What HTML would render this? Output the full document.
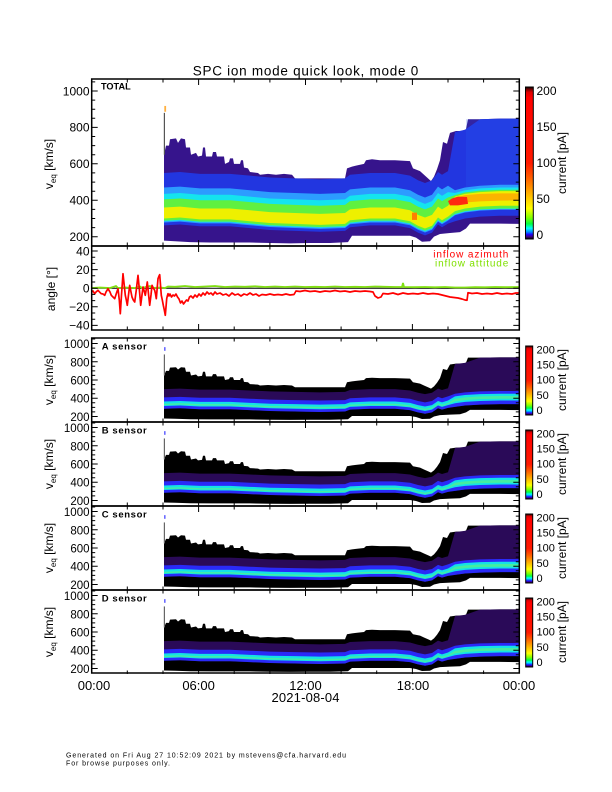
<!DOCTYPE html>
<html><head><meta charset="utf-8"><style>
html,body{margin:0;padding:0;background:#fff;}
svg{display:block;}
text{font-family:"Liberation Sans",sans-serif;fill:#000;}
</style></head><body>
<svg width="612" height="792" viewBox="0 0 612 792" xmlns="http://www.w3.org/2000/svg">
<defs>
<linearGradient id="cb" x1="0" y1="0" x2="0" y2="1">
<stop offset="0" stop-color="#000"/>
<stop offset="0.015" stop-color="#700000"/>
<stop offset="0.035" stop-color="#e00000"/>
<stop offset="0.07" stop-color="#ff0000"/>
<stop offset="0.5" stop-color="#ff1a00"/>
<stop offset="0.6" stop-color="#ff6000"/>
<stop offset="0.68" stop-color="#ffa000"/>
<stop offset="0.76" stop-color="#ffe000"/>
<stop offset="0.8" stop-color="#ffff00"/>
<stop offset="0.86" stop-color="#80ff00"/>
<stop offset="0.9" stop-color="#00ff40"/>
<stop offset="0.93" stop-color="#00ffff"/>
<stop offset="0.955" stop-color="#0080ff"/>
<stop offset="0.97" stop-color="#2000ff"/>
<stop offset="0.985" stop-color="#400080"/>
<stop offset="1" stop-color="#000"/>
</linearGradient>
<path id="env" d="M164,350L166,300L169,300L170,265L176,260L178,285L181,260L185,265L186,310L190,310L191,350L196,340L198,360L202,355L203,310L205,310L206,360L212,360L213,335L216,335L217,360L224,360L225,400L229,390L230,370L233,370L234,400L240,400L241,380L243,380L244,420L248,425L250,445L258,450L260,460L268,455L276,460L284,455L292,460L295,480L345,480L347,425L352,415L356,410L364,400L366,380L372,375L380,380L395,380L410,385L413,425L420,440L424,460L428,480L431,495L434,470L437,430L440,380L443,280L447,290L450,230L456,220L462,220L466,210L468,155L480,155L500,152L519.5,152L519.5,730L500,728L470,728L466,755L460,775L450,780L440,785L434,800L430,825L422,828L416,805L410,795L380,795L352,795L348,830L330,835L310,835L290,837L270,835L250,832L230,832L210,832L190,830L175,825L164,822Z"/>
<g id="sspec">
<use href="#env" fill="#000"/>
<polygon fill="#2a0a58" points="164,500 180,495 200,505 230,505 250,515 270,525 295,530 320,535 345,530 350,510 370,500 395,500 410,515 418,540 425,555 432,540 438,495 442,510 448,490 455,225 465,213 480,155 500,152 519.5,152 519.5,665 500,665 480,670 465,680 455,695 448,705 442,725 438,710 432,755 425,770 418,755 410,730 395,715 370,715 350,725 345,745 320,750 295,745 270,740 250,730 230,720 200,720 180,710 164,715"/>
<polygon fill="#2a2af8" points="164,590 180,585 200,595 230,595 250,605 270,615 295,620 320,625 345,620 350,600 370,590 395,590 410,605 418,630 425,645 432,630 438,585 442,600 448,580 455,550 465,535 480,525 500,520 519.5,520 519.5,665 500,665 480,670 465,680 455,695 448,705 442,725 438,710 432,755 425,770 418,755 410,730 395,715 370,715 350,725 345,745 320,750 295,745 270,740 250,730 230,720 200,720 180,710 164,715"/>
<polygon fill="#14e2e6" points="164,635 180,630 200,640 230,640 250,650 270,660 295,665 320,670 345,665 350,645 370,635 395,635 410,650 418,675 425,690 432,675 438,630 442,645 448,625 455,580 465,565 480,555 500,550 519.5,550 519.5,625 500,625 480,630 465,640 455,655 448,675 442,695 438,680 432,725 425,740 418,725 410,700 395,685 370,685 350,695 345,715 320,720 295,715 270,710 250,700 230,690 200,690 180,680 164,685"/>
<polygon fill="#50f090" opacity="0.8" points="164,660 180,655 200,665 230,665 250,675 270,685 295,690 320,695 345,690 350,670 370,660 395,660 410,675 418,700 425,715 432,700 438,655 442,670 448,650 455,605 465,590 480,580 500,575 519.5,575 519.5,605 500,605 480,610 465,620 455,635 448,665 442,685 438,670 432,715 425,730 418,715 410,690 395,675 370,675 350,685 345,705 320,710 295,705 270,700 250,690 230,680 200,680 180,670 164,675"/>
<rect x="163.8" y="120" width="1.2" height="230" fill="#666"/>
<rect x="164" y="40" width="1.6" height="40" fill="#6a6aff"/>
</g>
<path id="stk" fill="none" stroke="#000" stroke-width="1" d="M127.3,84V80.5M163,84V80.5M234.2,84V80.5M269.9,84V80.5M341.1,84V80.5M376.7,84V80.5M448,84V80.5M483.6,84V80.5M198.6,84V78M305.5,84V78M412.4,84V78M127.3,0V3.5M163,0V3.5M234.2,0V3.5M269.9,0V3.5M341.1,0V3.5M376.7,0V3.5M448,0V3.5M483.6,0V3.5M198.6,0V6M305.5,0V6M412.4,0V6M91.7,5.5H97.7M91.7,23.75H97.7M91.7,42H97.7M91.7,60.25H97.7M91.7,78.5H97.7M91.7,1H95.2M91.7,10.1H95.2M91.7,14.6H95.2M91.7,19.2H95.2M91.7,28.3H95.2M91.7,32.9H95.2M91.7,37.4H95.2M91.7,46.6H95.2M91.7,51.1H95.2M91.7,55.7H95.2M91.7,64.8H95.2M91.7,69.4H95.2M91.7,73.9H95.2M519.3,5.5H513.3M519.3,23.75H513.3M519.3,42H513.3M519.3,60.25H513.3M519.3,78.5H513.3M519.3,1H515.8M519.3,10.1H515.8M519.3,14.6H515.8M519.3,19.2H515.8M519.3,28.3H515.8M519.3,32.9H515.8M519.3,37.4H515.8M519.3,46.6H515.8M519.3,51.1H515.8M519.3,55.7H515.8M519.3,64.8H515.8M519.3,69.4H515.8M519.3,73.9H515.8"/>
</defs>
<rect width="612" height="792" fill="#fff"/>

<text x="192.7" y="75.5" font-size="13.5" textLength="225.6" lengthAdjust="spacing">SPC ion mode quick look, mode 0</text>

<g transform="translate(0,91) scale(1,0.1821)">
<use href="#env" fill="#36148c"/>
<polygon fill="#2236e0" points="164,450 180,445 200,455 230,455 250,465 270,475 295,480 320,485 345,480 350,460 370,450 395,450 410,465 418,490 425,505 432,490 438,445 442,460 448,440 455,225 465,213 480,155 500,152 519.5,152 519.5,685 500,685 480,690 465,700 455,715 448,728 442,748 438,733 432,778 425,793 418,778 410,753 395,738 370,738 350,748 345,768 320,773 295,768 270,763 250,753 230,743 200,743 180,733 164,738"/>
<rect x="466" y="155" width="53.5" height="390" fill="#2a60f0" opacity="0.22"/>
<polygon fill="#2c9cff" points="164,530 180,525 200,535 230,535 250,545 270,555 295,560 320,565 345,560 350,540 370,530 395,530 410,545 418,570 425,585 432,570 438,525 442,540 448,520 455,545 465,530 480,520 500,515 519.5,515 519.5,652 500,652 480,657 465,667 455,682 448,712 442,732 438,717 432,762 425,777 418,762 410,737 395,722 370,722 350,732 345,752 320,757 295,752 270,747 250,737 230,727 200,727 180,717 164,722"/>
<polygon fill="#14e4ee" points="164,565 180,560 200,570 230,570 250,580 270,590 295,595 320,600 345,595 350,575 370,565 395,565 410,580 418,605 425,620 432,605 438,560 442,575 448,555 455,560 465,545 480,535 500,530 519.5,530 519.5,648 500,648 480,653 465,663 455,678 448,706 442,726 438,711 432,756 425,771 418,756 410,731 395,716 370,716 350,726 345,746 320,751 295,746 270,741 250,731 230,721 200,721 180,711 164,716"/>
<polygon fill="#60f040" points="164,595 180,590 200,600 230,600 250,610 270,620 295,625 320,630 345,625 350,605 370,595 395,595 410,610 418,635 425,650 432,635 438,590 442,605 448,585 455,572 465,557 480,547 500,542 519.5,542 519.5,645 500,645 480,650 465,660 455,675 448,702 442,722 438,707 432,752 425,767 418,752 410,727 395,712 370,712 350,722 345,742 320,747 295,742 270,737 250,727 230,717 200,717 180,707 164,712"/>
<polygon fill="#eef000" points="164,640 180,635 200,645 230,645 250,655 270,665 295,670 320,675 345,670 350,650 370,640 395,640 410,655 418,680 425,695 432,680 438,635 442,650 448,630 455,580 465,565 480,555 500,550 519.5,550 519.5,630 500,630 480,635 465,645 455,660 448,690 442,710 438,695 432,740 425,755 418,740 410,715 395,700 370,700 350,710 345,730 320,735 295,730 270,725 250,715 230,705 200,705 180,695 164,700"/>
<polygon fill="#ffa000" opacity="0.75" points="455,588 465,572 480,565 500,562 519.5,562 519.5,600 500,602 480,606 465,612 455,620"/>
<polygon fill="#ff2a10" points="448,605 452,590 458,580 467,582 468,620 458,628 450,628"/>
<rect x="412" y="668" width="5" height="40" fill="#ff8000"/>
<rect x="163.8" y="120" width="1.2" height="230" fill="#555"/>
<rect x="164.3" y="82" width="1.8" height="32" fill="#ffb040"/>
</g>

<rect x="91.7" y="79" width="427.6" height="167" fill="none" stroke="#000" stroke-width="1.5"/>
<path fill="none" stroke="#000" stroke-width="1" d="M127.3,246V242.5M163,246V242.5M234.2,246V242.5M269.9,246V242.5M341.1,246V242.5M376.7,246V242.5M448,246V242.5M483.6,246V242.5M198.6,246V240M305.5,246V240M412.4,246V240M127.3,79V82.5M163,79V82.5M234.2,79V82.5M269.9,79V82.5M341.1,79V82.5M376.7,79V82.5M448,79V82.5M483.6,79V82.5M198.6,79V85M305.5,79V85M412.4,79V85M91.7,91H97.7M91.7,127.4H97.7M91.7,163.8H97.7M91.7,200.3H97.7M91.7,236.7H97.7M91.7,81.9H95.2M91.7,100.1H95.2M91.7,109.2H95.2M91.7,118.3H95.2M91.7,136.5H95.2M91.7,145.6H95.2M91.7,154.7H95.2M91.7,172.9H95.2M91.7,182.1H95.2M91.7,191.2H95.2M91.7,209.4H95.2M91.7,218.5H95.2M91.7,227.6H95.2M519.3,91H513.3M519.3,127.4H513.3M519.3,163.8H513.3M519.3,200.3H513.3M519.3,236.7H513.3M519.3,81.9H515.8M519.3,100.1H515.8M519.3,109.2H515.8M519.3,118.3H515.8M519.3,136.5H515.8M519.3,145.6H515.8M519.3,154.7H515.8M519.3,172.9H515.8M519.3,182.1H515.8M519.3,191.2H515.8M519.3,209.4H515.8M519.3,218.5H515.8M519.3,227.6H515.8"/>
<g font-size="12" text-anchor="end">
<text x="89.5" y="95.3">1000</text>
<text x="89.5" y="131.7">800</text>
<text x="89.5" y="168.1">600</text>
<text x="89.5" y="204.6">400</text>
<text x="89.5" y="241">200</text>
</g>
<text x="101" y="89.3" font-size="9" font-weight="bold" textLength="29.7" lengthAdjust="spacingAndGlyphs">TOTAL</text>
<text transform="translate(53,164) rotate(-90)" font-size="12" text-anchor="middle">v<tspan font-size="8" dy="3">eq</tspan><tspan dy="-3"> [km/s]</tspan></text>
<rect x="525.5" y="87" width="7.8" height="152" fill="url(#cb)" stroke="#000" stroke-width="1"/>
<g font-size="12">
<text x="536.5" y="95">200</text>
<text x="536.5" y="131">150</text>
<text x="536.5" y="167">100</text>
<text x="536.5" y="203">50</text>
<text x="536.5" y="239">0</text>
</g>
<text transform="translate(566,163) rotate(-90)" font-size="12" text-anchor="middle">current [pA]</text>

<line x1="92" y1="288.2" x2="519" y2="288.2" stroke="#000" stroke-width="1"/>
<polyline fill="none" stroke="#80e010" stroke-width="1.8" points="92,288 100,287.5 110,288 116,286 118,288 125,287.5 135,288 140,286.5 142,288 150,286 152,288 160,287.5 165,288 168,286.5 175,286.8 185,286 195,287 205,286.5 215,286 225,287 235,286.5 245,286.8 255,286.3 265,287 275,286.5 285,287 295,286.5 305,287 315,286.8 325,287 335,286.5 345,287 355,286.8 365,287 375,286.5 385,286.8 395,287 402,287 403,283 404,287 415,287.2 425,287 435,287.3 445,287 455,287.5 465,287.5 475,287.2 485,287.3 495,287 505,287.2 519,287"/>
<polyline fill="none" stroke="#ff0000" stroke-width="1.7" stroke-linejoin="round" points="91.5,292 93,291 94.7,293.7 96,292 98,290.3 99.5,292 101.3,293.7 103,294 104.7,295.3 106,292 108,288.7 110,292 111.3,295.3 113,297 114.7,298.7 116.5,293 118,288.7 119.3,300 120.3,313.7 121.5,295 123,273.7 124.2,285 125.3,295.3 126.3,300 127.3,305.3 128.5,295 129.7,285.3 131,292 132,297 133.3,300 134.7,302 136.3,290 138,275.3 139.4,290 140.7,305.3 142,295 143,287 144.2,291 145.3,295.3 146.3,289 147.3,282 148.5,294 149.7,305.3 151,295 152,285.3 153.3,288 154.7,290.3 155.5,294 156.3,298.7 157.2,288 158,278.7 159,276 159.7,274.7 160.5,285 161.3,295.3 162.3,300 163.3,305.3 164.3,310 165.3,315.3 166,307 166.7,298.7 167.3,296 168,293.7 169,296 170,294 171.5,297 173,295 174.5,296 176,294 177.5,297 179,299 180.5,303 182,301 183.5,304 185,302 186.5,300 188,301 189.5,297 191,296 193,298 195,295 197,297 199,294 201,296 203,293 205,295 207,292 209,294 211,293 213,295 215,292 217,294 220,293 223,295 226,294 229,296 232,293 235,295 238,294 241,296 244,294 247,295 250,293 253,295 256,294 259,296 262,294.5 266,295 270,294 274,295 278,294.5 282,295 286,294 290,295 294,294.5 296,291 300,291.5 305,290.5 310,291.5 315,291 320,292 325,291 330,291.5 335,290.5 340,291.5 345,291 350,292 355,291 360,291.5 365,291 370,291.5 373,292 375,296 378,298 381,297 383,293.5 388,294 393,293 398,294.5 403,293 408,294 413,293.5 418,294 423,293 428,294 433,293.5 438,294 442,295 446,296 450,297 454,297.5 458,298 462,299 465,300 467,300.3 468,292.7 472,293.5 477,293 482,294 487,293.5 492,294 497,293 502,294 507,293.5 512,294 516,293 519,293"/>
<rect x="91.7" y="246" width="427.6" height="84" fill="none" stroke="#000" stroke-width="1.5"/>
<path fill="none" stroke="#000" stroke-width="1" d="M127.3,330V326.5M163,330V326.5M234.2,330V326.5M269.9,330V326.5M341.1,330V326.5M376.7,330V326.5M448,330V326.5M483.6,330V326.5M198.6,330V324M305.5,330V324M412.4,330V324M127.3,246V249.5M163,246V249.5M234.2,246V249.5M269.9,246V249.5M341.1,246V249.5M376.7,246V249.5M448,246V249.5M483.6,246V249.5M198.6,246V252M305.5,246V252M412.4,246V252M91.7,251H97.7M91.7,269.6H97.7M91.7,288.2H97.7M91.7,306.8H97.7M91.7,325.4H97.7M91.7,257.2H95.2M91.7,263.4H95.2M91.7,275.8H95.2M91.7,282H95.2M91.7,294.4H95.2M91.7,300.6H95.2M91.7,313H95.2M91.7,319.2H95.2M519.3,251H513.3M519.3,269.6H513.3M519.3,288.2H513.3M519.3,306.8H513.3M519.3,325.4H513.3M519.3,257.2H515.8M519.3,263.4H515.8M519.3,275.8H515.8M519.3,282H515.8M519.3,294.4H515.8M519.3,300.6H515.8M519.3,313H515.8M519.3,319.2H515.8"/>
<g font-size="12" text-anchor="end">
<text x="89.5" y="255.3">40</text>
<text x="89.5" y="273.9">20</text>
<text x="89.5" y="292.5">0</text>
<text x="89.5" y="311.1">−20</text>
<text x="89.5" y="329.7">−40</text>
</g>
<text transform="translate(55,289) rotate(-90)" font-size="12" text-anchor="middle">angle [°]</text>
<text x="433.3" y="257.5" font-size="10" style="fill:#ff0000" textLength="75" lengthAdjust="spacing">inflow azimuth</text>
<text x="435" y="266.5" font-size="10" style="fill:#7fe000" textLength="73.3" lengthAdjust="spacing">inflow attitude</text>

<use href="#sspec" transform="translate(0,343.5) scale(1,0.09125)"/>
<use href="#sspec" transform="translate(0,427.5) scale(1,0.09125)"/>
<use href="#sspec" transform="translate(0,511.5) scale(1,0.09125)"/>
<use href="#sspec" transform="translate(0,595.5) scale(1,0.09125)"/>

<g transform="translate(0,338)">
<rect x="91.7" y="0" width="427.6" height="84" fill="none" stroke="#000" stroke-width="1.5"/>
<use href="#stk"/>
<rect x="525.7" y="8" width="7" height="69" fill="url(#cb)" stroke="#000" stroke-width="1"/>
</g>
<g transform="translate(0,422)">
<rect x="91.7" y="0" width="427.6" height="84" fill="none" stroke="#000" stroke-width="1.5"/>
<use href="#stk"/>
<rect x="525.7" y="8" width="7" height="69" fill="url(#cb)" stroke="#000" stroke-width="1"/>
</g>
<g transform="translate(0,506)">
<rect x="91.7" y="0" width="427.6" height="84" fill="none" stroke="#000" stroke-width="1.5"/>
<use href="#stk"/>
<rect x="525.7" y="8" width="7" height="69" fill="url(#cb)" stroke="#000" stroke-width="1"/>
</g>
<g transform="translate(0,590)">
<rect x="91.7" y="0" width="427.6" height="83" fill="none" stroke="#000" stroke-width="1.5"/>
<use href="#stk"/>
<rect x="525.7" y="8" width="7" height="69" fill="url(#cb)" stroke="#000" stroke-width="1"/>
</g>

<g font-size="11.5" text-anchor="end">
<text x="89.5" y="348">1000</text><text x="89.5" y="366.3">800</text><text x="89.5" y="384.5">600</text><text x="89.5" y="402.7">400</text><text x="89.5" y="420.8">200</text>
<text x="89.5" y="432">1000</text><text x="89.5" y="450.3">800</text><text x="89.5" y="468.5">600</text><text x="89.5" y="486.7">400</text><text x="89.5" y="504.8">200</text>
<text x="89.5" y="516">1000</text><text x="89.5" y="534.3">800</text><text x="89.5" y="552.5">600</text><text x="89.5" y="570.7">400</text><text x="89.5" y="588.8">200</text>
<text x="89.5" y="600">1000</text><text x="89.5" y="618.3">800</text><text x="89.5" y="636.5">600</text><text x="89.5" y="654.7">400</text><text x="89.5" y="672.8">200</text>
</g>
<g font-size="9.5" font-weight="bold">
<text x="101.7" y="349.3" textLength="45" lengthAdjust="spacing">A sensor</text>
<text x="101.7" y="433.3" textLength="45" lengthAdjust="spacing">B sensor</text>
<text x="101.7" y="517.3" textLength="45" lengthAdjust="spacing">C sensor</text>
<text x="101.7" y="601.3" textLength="45" lengthAdjust="spacing">D sensor</text>
</g>
<g font-size="12" text-anchor="middle">
<text transform="translate(53,380) rotate(-90)">v<tspan font-size="8" dy="3">eq</tspan><tspan dy="-3"> [km/s]</tspan></text>
<text transform="translate(53,464) rotate(-90)">v<tspan font-size="8" dy="3">eq</tspan><tspan dy="-3"> [km/s]</tspan></text>
<text transform="translate(53,548) rotate(-90)">v<tspan font-size="8" dy="3">eq</tspan><tspan dy="-3"> [km/s]</tspan></text>
<text transform="translate(53,632) rotate(-90)">v<tspan font-size="8" dy="3">eq</tspan><tspan dy="-3"> [km/s]</tspan></text>
<text transform="translate(566,380) rotate(-90)">current [pA]</text>
<text transform="translate(566,464) rotate(-90)">current [pA]</text>
<text transform="translate(566,548) rotate(-90)">current [pA]</text>
<text transform="translate(566,632) rotate(-90)">current [pA]</text>
</g>
<g font-size="11">
<text x="536.5" y="353.3">200</text><text x="536.5" y="368.5">150</text><text x="536.5" y="383.7">100</text><text x="536.5" y="398.9">50</text><text x="536.5" y="414.1">0</text>
<text x="536.5" y="437.3">200</text><text x="536.5" y="452.5">150</text><text x="536.5" y="467.7">100</text><text x="536.5" y="482.9">50</text><text x="536.5" y="498.1">0</text>
<text x="536.5" y="521.3">200</text><text x="536.5" y="536.5">150</text><text x="536.5" y="551.7">100</text><text x="536.5" y="566.9">50</text><text x="536.5" y="582.1">0</text>
<text x="536.5" y="605.3">200</text><text x="536.5" y="620.5">150</text><text x="536.5" y="635.7">100</text><text x="536.5" y="650.9">50</text><text x="536.5" y="666.1">0</text>
</g>

<g font-size="13" text-anchor="middle">
<text x="94" y="690">00:00</text>
<text x="198.6" y="690">06:00</text>
<text x="305.5" y="690">12:00</text>
<text x="413" y="690">18:00</text>
<text x="519" y="690">00:00</text>
<text x="305.5" y="702" textLength="68" lengthAdjust="spacing">2021-08-04</text>
</g>

<text x="66" y="757.5" font-size="7" textLength="280" lengthAdjust="spacing">Generated on Fri Aug 27 10:52:09 2021 by mstevens@cfa.harvard.edu</text>
<text x="66" y="765.5" font-size="7" textLength="104" lengthAdjust="spacing">For browse purposes only.</text>
</svg>
</body></html>
